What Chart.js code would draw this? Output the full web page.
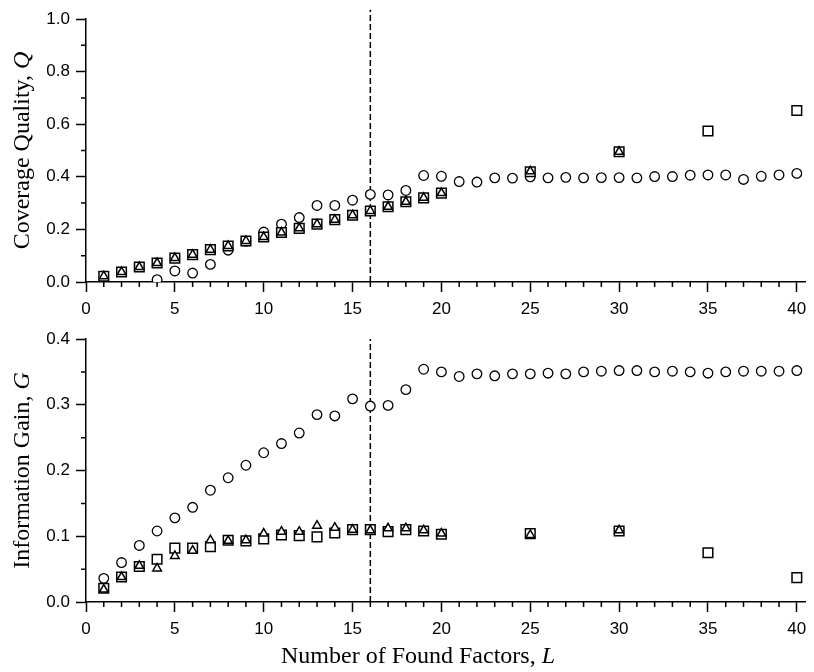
<!DOCTYPE html>
<html>
<head>
<meta charset="utf-8">
<script src="https://cdn.jsdelivr.net/npm/chart.js@4/dist/chart.umd.min.js"></script>
<style>
  html, body { margin: 0; padding: 0; background: #fff; }
  #top { position: absolute; left: 0; top: 0; width: 814px; height: 320px; }
  #bottom { position: absolute; left: 0; top: 320px; width: 814px; height: 352px; }
</style>
</head>
<body>
<div id="top"><canvas id="chart-q"></canvas></div>
<div id="bottom"><canvas id="chart-g"></canvas></div>
<script>
// L = 1..40 for the circle series
const allL = [1, 2, 3, 4, 5, 6, 7, 8, 9, 10, 11, 12, 13, 14, 15, 16, 17, 18, 19, 20,
  21, 22, 23, 24, 25, 26, 27, 28, 29, 30, 31, 32, 33, 34, 35, 36, 37, 38, 39, 40]
const squareL = [1, 2, 3, 4, 5, 6, 7, 8, 9, 10, 11, 12, 13, 14, 15, 16, 17, 18, 19, 20, 25, 30, 35, 40]
const triangleL = [1, 2, 3, 4, 5, 6, 7, 8, 9, 10, 11, 12, 13, 14, 15, 16, 17, 18, 19, 20, 25, 30]

// coverage quality Q
const qCircle = [null, null, null, 0.009, 0.042, 0.034, 0.067, 0.121, 0.155, 0.190,
  0.220, 0.245, 0.291, 0.291, 0.311, 0.333, 0.331, 0.348, 0.405, 0.402,
  0.382, 0.380, 0.396, 0.395, 0.400, 0.396, 0.398, 0.396, 0.397, 0.397,
  0.396, 0.401, 0.401, 0.406, 0.407, 0.407, 0.390, 0.402, 0.407, 0.413]
const qSquare = [0.022, 0.038, 0.057, 0.072, 0.091, 0.104, 0.123, 0.137, 0.156, 0.171,
  0.188, 0.204, 0.220, 0.237, 0.254, 0.270, 0.286, 0.305, 0.320, 0.338,
  0.419, 0.495, 0.574, 0.652]
const qTriangle = [0.022, 0.038, 0.057, 0.072, 0.091, 0.104, 0.123, 0.137, 0.156, 0.171,
  0.188, 0.204, 0.220, 0.237, 0.254, 0.270, 0.286, 0.305, 0.320, 0.338,
  0.421, 0.495]

// information gain G
const gCircle = [0.036, 0.060, 0.086, 0.108, 0.128, 0.144, 0.170, 0.189, 0.208, 0.227,
  0.241, 0.257, 0.285, 0.283, 0.309, 0.298, 0.299, 0.323, 0.354, 0.350,
  0.343, 0.347, 0.344, 0.347, 0.347, 0.348, 0.347, 0.350, 0.351, 0.352,
  0.352, 0.350, 0.351, 0.350, 0.348, 0.350, 0.351, 0.351, 0.351, 0.352]
const gSquare = [0.021, 0.038, 0.054, 0.065, 0.082, 0.082, 0.084, 0.094, 0.093, 0.096,
  0.102, 0.101, 0.099, 0.105, 0.110, 0.110, 0.107, 0.110, 0.108, 0.103,
  0.104, 0.108, 0.075, 0.037]
const gTriangle = [0.019, 0.038, 0.055, 0.051, 0.070, 0.078, 0.094, 0.093, 0.094, 0.104,
  0.107, 0.107, 0.116, 0.113, 0.110, 0.109, 0.112, 0.112, 0.109, 0.104,
  0.102, 0.109]

const markerL = 16

const tickFont = { family: "'Liberation Sans', Arial, sans-serif", size: 17 }
const serif = "'Liberation Serif', 'Times New Roman', serif"
const titleSize = 24

function points(xs, ys) {
  return xs.map((x, i) => ({ x, y: ys[i] })).filter(p => p.y !== null)
}

// draws text made of plain and italic parts, centred on (cx, cy)
function drawParts(ctx, parts, cx, cy, angle) {
  ctx.save()
  ctx.translate(cx, cy)
  ctx.rotate(angle)
  ctx.fillStyle = '#000'
  ctx.textBaseline = 'alphabetic'
  let total = 0
  parts.forEach(p => {
    ctx.font = `${p.italic ? 'italic ' : ''}${titleSize}px ${serif}`
    p.w = ctx.measureText(p.text).width
    total += p.w
  })
  let x = -total / 2
  parts.forEach(p => {
    ctx.font = `${p.italic ? 'italic ' : ''}${titleSize}px ${serif}`
    ctx.fillText(p.text, x, 8)
    x += p.w
  })
  ctx.restore()
}

const axisExtras = {
  id: 'axisExtras',
  afterDraw(chart, args, opts) {
    const { ctx, scales: { x, y } } = chart
    ctx.save()
    ctx.strokeStyle = '#000'
    ctx.lineWidth = 1.5
    ctx.beginPath()
    for (let v = 1; v <= 40; v++) {
      if (v % 5 === 0) continue
      const px = x.getPixelForValue(v)
      ctx.moveTo(px, x.top)
      ctx.lineTo(px, x.top + 5)
    }
    for (let v = opts.yMinorStep; v < y.max; v += opts.yMinorStep * 2) {
      const py = y.getPixelForValue(v)
      ctx.moveTo(y.right, py)
      ctx.lineTo(y.right - 5, py)
    }
    ctx.stroke()
    ctx.restore()

    drawParts(ctx, opts.yTitle, 21, (chart.chartArea.top + chart.chartArea.bottom) / 2, -Math.PI / 2)
    if (opts.xTitle) {
      drawParts(ctx, opts.xTitle, 418, 335, 0)
    }
  }
}

function makeChart(canvasId, circle, square, triangle, yMax, yStep, xAxisHeight, dashTop, extras) {
  const marker = {
    backgroundColor: '#fff',
    borderColor: '#000',
    borderWidth: 1.5
  }
  return new Chart(document.getElementById(canvasId), {
    type: 'scatter',
    data: {
      datasets: [
        { ...marker, label: 'triangle', data: points(triangleL, triangle), pointStyle: 'triangle', pointRadius: 5, order: 1 },
        { ...marker, label: 'square', data: points(squareL, square), pointStyle: 'rect', pointRadius: 6.8, order: 2 },
        { ...marker, label: 'circle', data: points(allL, circle), pointStyle: 'circle', pointRadius: 4.8, borderWidth: 1.3, order: 3 },
        {
          type: 'line',
          label: 'L = 16',
          data: [{ x: markerL, y: 0 }, { x: markerL, y: dashTop }],
          borderColor: '#000',
          borderWidth: 1.5,
          borderDash: [6, 3],
          pointRadius: 0,
          clip: false,
          order: 4
        }
      ]
    },
    options: {
      animation: false,
      responsive: true,
      maintainAspectRatio: false,
      layout: { padding: { top: 19, right: 0, left: 0, bottom: 0 } },
      plugins: {
        legend: { display: false },
        tooltip: { enabled: false },
        axisExtras: extras
      },
      scales: {
        x: {
          type: 'linear',
          min: 0,
          max: 40.5,
          afterFit: scale => { scale.height = xAxisHeight },
          border: { color: '#000', width: 1.5 },
          grid: { drawOnChartArea: false, drawTicks: true, tickLength: 10, tickWidth: 1.5, tickColor: '#000' },
          ticks: { stepSize: 5, includeBounds: false, color: '#000', font: tickFont, padding: 7, maxRotation: 0 }
        },
        y: {
          min: 0,
          max: yMax,
          afterFit: scale => { scale.width = 86 },
          border: { color: '#000', width: 1.5 },
          grid: { drawOnChartArea: false, drawTicks: true, tickLength: 10, tickWidth: 1.5, tickColor: '#000' },
          ticks: { stepSize: yStep, color: '#000', font: tickFont, padding: 6, callback: v => v.toFixed(1) }
        }
      }
    },
    plugins: [axisExtras]
  })
}

makeChart('chart-q', qCircle, qSquare, qTriangle, 1.0, 0.2, 38, 1.035, {
  yMinorStep: 0.1,
  yTitle: [{ text: 'Coverage Quality, ' }, { text: 'Q', italic: true }]
})

makeChart('chart-g', gCircle, gSquare, gTriangle, 0.4, 0.1, 70, 0.4, {
  yMinorStep: 0.05,
  yTitle: [{ text: 'Information Gain, ' }, { text: 'G', italic: true }],
  xTitle: [{ text: 'Number of Found Factors, ' }, { text: 'L', italic: true }]
})
</script>
</body>
</html>
